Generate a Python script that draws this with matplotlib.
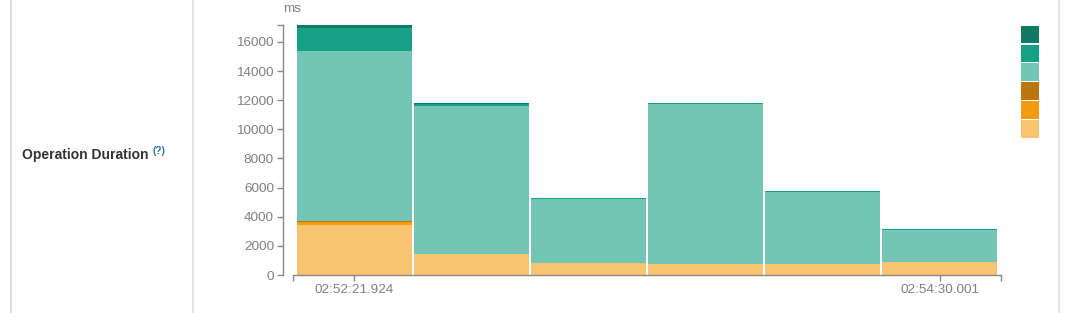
import numpy as np
import matplotlib
matplotlib.use("Agg")
import matplotlib.pyplot as plt
from matplotlib.ticker import FixedLocator

# time buckets (bar centres)
bucket_labels = ["02:52:21.924", "02:52:47.539", "02:53:13.155",
                 "02:53:38.770", "02:54:04.386", "02:54:30.001"]

# stacked layers, bottom to top (ms)
light_orange = [3430, 1440, 820, 750, 780, 880]
orange = [180, 0, 0, 0, 0, 40]
dark_orange = [90, 0, 0, 0, 0, 0]
light_green = [11680, 10170, 4420, 11000, 4950, 2200]
green = [1580, 150, 50, 40, 40, 40]
dark_green = [200, 50, 0, 0, 0, 0]

layers = [light_orange, orange, dark_orange, light_green, green, dark_green]
colors = ["#f8c471", "#f39c12", "#b9770e", "#73c6b6", "#16a085", "#117a65"]
shown_ticks = [bucket_labels[0], bucket_labels[-1]]

def to_sec(s):
    h, m, sec = s.split(":")
    return int(h) * 3600 + int(m) * 60 + float(sec)

x = np.array([to_sec(s) for s in bucket_labels])
step = x[1] - x[0]

W, H = 1067, 313
fig = plt.figure(figsize=(W / 100, H / 100), dpi=100)
plt.rcParams['font.family'] = ['Liberation Sans', 'DejaVu Sans']

# panel frame lines
for px, col in [(11, "#dddddd"), (193, "#e4e4e4"), (1059, "#e4e4e4")]:
    fig.add_artist(plt.Line2D([px / W, px / W], [0, 1], color=col, lw=1.5))

fig.text(22 / W, 1 - 155 / H, "Operation Duration", fontsize=10,
         fontweight="bold", color="#333333", va="center")
fig.text(152 / W, 1 - 151 / H, "(?)", fontsize=7, fontweight="bold",
         color="#2a6db0", va="center")

ax = fig.add_axes([293 / W, 1 - 275 / H, (1001 - 293) / W, (275 - 25) / H])

bottom = np.zeros(len(x))
for vals, c in zip(layers, colors):
    vals = np.array(vals, dtype=float)
    ax.bar(x, vals, width=step * 115 / 117, bottom=bottom, color=c, linewidth=0)
    bottom += vals

ymax = bottom.max()
ax.set_ylim(0, ymax)
pad = step * 3 / 117
ax.set_xlim(x[0] - step / 2 - pad, x[-1] + step / 2 + pad)

gray = "#888888"
for s in ["top", "right"]:
    ax.spines[s].set_visible(False)
ax.spines["left"].set_position(("outward", 7.2))
for s in ["left", "bottom"]:
    ax.spines[s].set_color(gray)
    ax.spines[s].set_linewidth(1)

ax.set_yticks(np.arange(0, 16001, 2000))
ax.yaxis.set_minor_locator(FixedLocator([ymax]))
ax.set_xticks([to_sec(s) for s in shown_ticks])
ax.set_xticklabels(shown_ticks)
ax.xaxis.set_minor_locator(FixedLocator(list(ax.get_xlim())))
ax.tick_params(axis="both", which="both", length=4.5, width=1, color=gray,
               labelcolor="#808080", labelsize=9.7, pad=2)

fig.text(283 / W, 1 - 9 / H, "ms", fontsize=9.7, color="#808080", va="center")

# legend swatches (no labels)
for i, c in enumerate(reversed(colors)):
    y0 = 25 + i * 19
    fig.add_artist(plt.Rectangle((1021 / W, 1 - (y0 + 18) / H), 18 / W, 17.5 / H,
                                 facecolor=c, edgecolor="none", lw=0,
                                 transform=fig.transFigure))

fig.savefig("out.png", dpi=100)
